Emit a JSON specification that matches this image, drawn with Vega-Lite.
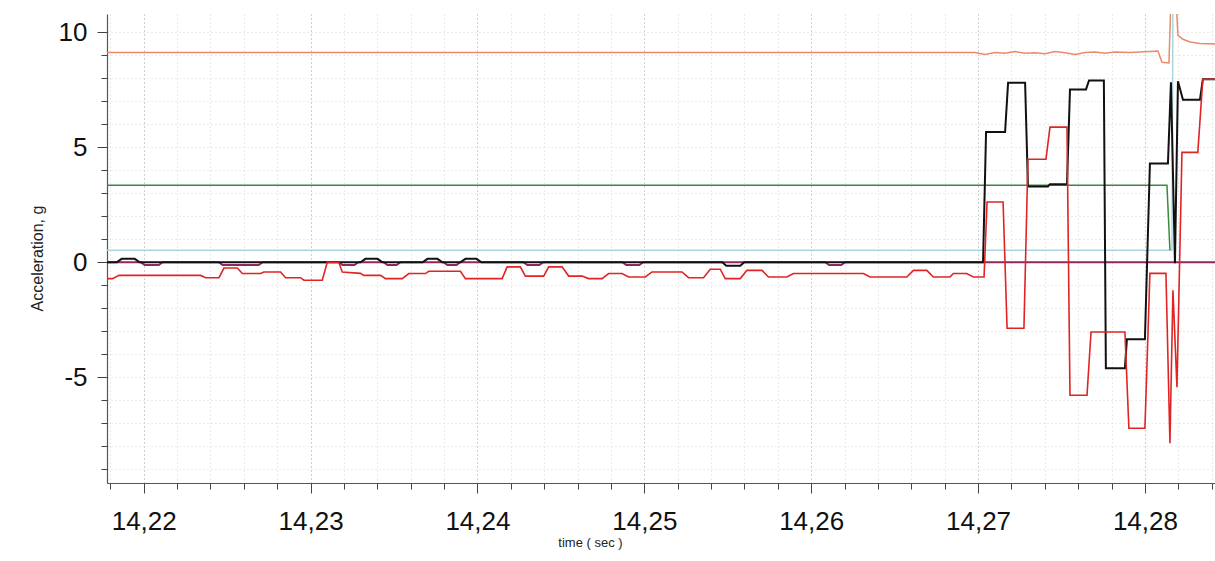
{
  "$schema": "https://vega.github.io/schema/vega-lite/v6.json",
  "width": 1108,
  "height": 469,
  "autosize": {"type": "none"},
  "padding": {"left": 107, "top": 14, "right": 0, "bottom": 78},
  "background": "white",
  "config": {"view": {"stroke": null}, "font": "Liberation Sans"},
  "data": {"values": [
    {"s":"lb","t":14.2178,"v":0.52},{"s":"lb","t":14.2815,"v":0.52},{"s":"lb","t":14.28162,"v":0.52},{"s":"lb","t":14.28168,"v":11.5},
    {"s":"g","t":14.2178,"v":3.35},{"s":"g","t":14.28132,"v":3.35},{"s":"g","t":14.2815,"v":0.52},
    {"s":"o","t":14.2178,"v":9.13},{"s":"o","t":14.26982,"v":9.13},{"s":"o","t":14.27042,"v":9.04},{"s":"o","t":14.27102,"v":9.13},{"s":"o","t":14.27162,"v":9.09},{"s":"o","t":14.27222,"v":9.17},{"s":"o","t":14.27282,"v":9.09},{"s":"o","t":14.27341,"v":9.11},{"s":"o","t":14.27401,"v":9.07},{"s":"o","t":14.27461,"v":9.17},{"s":"o","t":14.27521,"v":9.11},{"s":"o","t":14.27581,"v":9.04},{"s":"o","t":14.27641,"v":9.13},{"s":"o","t":14.27701,"v":9.15},{"s":"o","t":14.2776,"v":9.09},{"s":"o","t":14.2782,"v":9.15},{"s":"o","t":14.2791,"v":9.13},{"s":"o","t":14.2803,"v":9.17},{"s":"o","t":14.28078,"v":9.19},{"s":"o","t":14.28102,"v":8.7},{"s":"o","t":14.28144,"v":8.67},{"s":"o","t":14.28156,"v":11.5},{"s":"o","t":14.28186,"v":11.5},{"s":"o","t":14.28198,"v":9.87},{"s":"o","t":14.28228,"v":9.7},{"s":"o","t":14.2827,"v":9.58},{"s":"o","t":14.2833,"v":9.52},{"s":"o","t":14.2842,"v":9.5},
    {"s":"p","t":14.2178,"v":0},{"s":"p","t":14.21982,"v":0},{"s":"p","t":14.22006,"v":-0.12},{"s":"p","t":14.2209,"v":-0.12},{"s":"p","t":14.22114,"v":0},
    {"s":"p","t":14.22449,"v":0},{"s":"p","t":14.22473,"v":-0.12},{"s":"p","t":14.22689,"v":-0.12},{"s":"p","t":14.22713,"v":0},
    {"s":"p","t":14.23168,"v":0},{"s":"p","t":14.23192,"v":-0.12},{"s":"p","t":14.23263,"v":-0.12},{"s":"p","t":14.23287,"v":0},
    {"s":"p","t":14.23437,"v":0},{"s":"p","t":14.23461,"v":-0.12},{"s":"p","t":14.23515,"v":-0.12},{"s":"p","t":14.23539,"v":0},
    {"s":"p","t":14.23796,"v":0},{"s":"p","t":14.2382,"v":-0.12},{"s":"p","t":14.23874,"v":-0.12},{"s":"p","t":14.23898,"v":0},
    {"s":"p","t":14.24275,"v":0},{"s":"p","t":14.24299,"v":-0.12},{"s":"p","t":14.24371,"v":-0.12},{"s":"p","t":14.24395,"v":0},
    {"s":"p","t":14.24868,"v":0},{"s":"p","t":14.24892,"v":-0.12},{"s":"p","t":14.2497,"v":-0.12},{"s":"p","t":14.24994,"v":0},
    {"s":"p","t":14.26084,"v":0},{"s":"p","t":14.26108,"v":-0.12},{"s":"p","t":14.2618,"v":-0.12},{"s":"p","t":14.26204,"v":0},
    {"s":"p","t":14.2842,"v":0},
    {"s":"k","t":14.2178,"v":0},{"s":"k","t":14.21838,"v":0},{"s":"k","t":14.21868,"v":0.15},{"s":"k","t":14.21946,"v":0.15},{"s":"k","t":14.21976,"v":0},
    {"s":"k","t":14.23299,"v":0},{"s":"k","t":14.23329,"v":0.15},{"s":"k","t":14.23401,"v":0.15},{"s":"k","t":14.23431,"v":0},
    {"s":"k","t":14.23671,"v":0},{"s":"k","t":14.23701,"v":0.15},{"s":"k","t":14.2376,"v":0.15},{"s":"k","t":14.2379,"v":0},
    {"s":"k","t":14.23898,"v":0},{"s":"k","t":14.23928,"v":0.15},{"s":"k","t":14.23994,"v":0.15},{"s":"k","t":14.24024,"v":0},
    {"s":"k","t":14.25467,"v":0},{"s":"k","t":14.25491,"v":-0.15},{"s":"k","t":14.25575,"v":-0.15},{"s":"k","t":14.25599,"v":0},
    {"s":"k","t":14.2703,"v":0},{"s":"k","t":14.27048,"v":5.67},{"s":"k","t":14.27162,"v":5.67},{"s":"k","t":14.2718,"v":7.81},{"s":"k","t":14.27282,"v":7.81},{"s":"k","t":14.27299,"v":3.3},{"s":"k","t":14.27419,"v":3.3},{"s":"k","t":14.27431,"v":3.4},{"s":"k","t":14.27533,"v":3.4},{"s":"k","t":14.27551,"v":7.52},{"s":"k","t":14.27647,"v":7.52},{"s":"k","t":14.27665,"v":7.91},{"s":"k","t":14.27754,"v":7.91},{"s":"k","t":14.27766,"v":-4.61},{"s":"k","t":14.2788,"v":-4.61},{"s":"k","t":14.27892,"v":-3.35},{"s":"k","t":14.28,"v":-3.35},{"s":"k","t":14.2803,"v":4.3},{"s":"k","t":14.28138,"v":4.3},{"s":"k","t":14.28156,"v":7.83},{"s":"k","t":14.2818,"v":-0.04},{"s":"k","t":14.28198,"v":7.87},{"s":"k","t":14.28228,"v":7.07},{"s":"k","t":14.2833,"v":7.07},{"s":"k","t":14.28347,"v":7.96},{"s":"k","t":14.2842,"v":7.96},
    {"s":"r","t":14.2178,"v":-0.71},{"s":"r","t":14.21813,"v":-0.71},{"s":"r","t":14.21852,"v":-0.57},{"s":"r","t":14.22341,"v":-0.57},{"s":"r","t":14.22371,"v":-0.67},{"s":"r","t":14.22451,"v":-0.67},{"s":"r","t":14.22481,"v":-0.25},{"s":"r","t":14.22561,"v":-0.25},{"s":"r","t":14.22591,"v":-0.49},{"s":"r","t":14.22701,"v":-0.49},{"s":"r","t":14.2272,"v":-0.42},{"s":"r","t":14.2282,"v":-0.42},{"s":"r","t":14.2285,"v":-0.67},{"s":"r","t":14.2294,"v":-0.67},{"s":"r","t":14.2296,"v":-0.78},{"s":"r","t":14.2307,"v":-0.78},{"s":"r","t":14.231,"v":0},{"s":"r","t":14.23169,"v":0},{"s":"r","t":14.2319,"v":-0.42},{"s":"r","t":14.23299,"v":-0.48},{"s":"r","t":14.23319,"v":-0.57},{"s":"r","t":14.23419,"v":-0.57},{"s":"r","t":14.23449,"v":-0.71},{"s":"r","t":14.23549,"v":-0.71},
    {"s":"r","t":14.23589,"v":-0.49},{"s":"r","t":14.23689,"v":-0.49},{"s":"r","t":14.23708,"v":-0.39},{"s":"r","t":14.23898,"v":-0.39},{"s":"r","t":14.23928,"v":-0.71},{"s":"r","t":14.24148,"v":-0.71},{"s":"r","t":14.24178,"v":-0.2},{"s":"r","t":14.24257,"v":-0.2},{"s":"r","t":14.24287,"v":-0.6},{"s":"r","t":14.24397,"v":-0.6},{"s":"r","t":14.24427,"v":-0.2},{"s":"r","t":14.24507,"v":-0.2},{"s":"r","t":14.24547,"v":-0.6},{"s":"r","t":14.24627,"v":-0.6},{"s":"r","t":14.24666,"v":-0.71},{"s":"r","t":14.24747,"v":-0.71},{"s":"r","t":14.24786,"v":-0.49},{"s":"r","t":14.24866,"v":-0.49},{"s":"r","t":14.24906,"v":-0.64},{"s":"r","t":14.25006,"v":-0.64},{"s":"r","t":14.25046,"v":-0.42},{"s":"r","t":14.25226,"v":-0.42},{"s":"r","t":14.25265,"v":-0.67},
    {"s":"r","t":14.25355,"v":-0.67},{"s":"r","t":14.25395,"v":-0.3},{"s":"r","t":14.25455,"v":-0.3},{"s":"r","t":14.25485,"v":-0.71},{"s":"r","t":14.25575,"v":-0.71},{"s":"r","t":14.25615,"v":-0.35},{"s":"r","t":14.25705,"v":-0.35},{"s":"r","t":14.25744,"v":-0.64},{"s":"r","t":14.25854,"v":-0.64},{"s":"r","t":14.25894,"v":-0.49},{"s":"r","t":14.26313,"v":-0.49},{"s":"r","t":14.26353,"v":-0.64},{"s":"r","t":14.26573,"v":-0.64},{"s":"r","t":14.26613,"v":-0.35},{"s":"r","t":14.26693,"v":-0.35},{"s":"r","t":14.26732,"v":-0.64},{"s":"r","t":14.26832,"v":-0.64},{"s":"r","t":14.26852,"v":-0.49},{"s":"r","t":14.26932,"v":-0.49},{"s":"r","t":14.26972,"v":-0.64},{"s":"r","t":14.27036,"v":-0.64},
    {"s":"r","t":14.27054,"v":2.62},{"s":"r","t":14.2715,"v":2.62},{"s":"r","t":14.27174,"v":-2.87},{"s":"r","t":14.27275,"v":-2.87},{"s":"r","t":14.27299,"v":4.48},{"s":"r","t":14.27407,"v":4.48},{"s":"r","t":14.27431,"v":5.88},{"s":"r","t":14.27533,"v":5.88},{"s":"r","t":14.27551,"v":-5.78},{"s":"r","t":14.27653,"v":-5.78},{"s":"r","t":14.27677,"v":-3.03},{"s":"r","t":14.2788,"v":-3.03},{"s":"r","t":14.27904,"v":-7.22},{"s":"r","t":14.28,"v":-7.22},{"s":"r","t":14.2803,"v":-0.48},{"s":"r","t":14.28126,"v":-0.48},{"s":"r","t":14.2815,"v":-7.87},{"s":"r","t":14.28168,"v":-1.22},{"s":"r","t":14.28192,"v":-5.43},{"s":"r","t":14.28222,"v":4.78},{"s":"r","t":14.28317,"v":4.78},{"s":"r","t":14.28347,"v":7.96},{"s":"r","t":14.2842,"v":7.96}
  ]},
  "encoding": {
    "x": {
      "field": "t", "type": "quantitative",
      "scale": {"domain": [14.2178, 14.2842], "nice": false, "zero": false},
      "axis": {
        "title": "time ( sec )",
        "titleFont": "Liberation Sans", "titleFontSize": 13, "titleFontWeight": "normal", "titleColor": "#222",
        "titleX": 483, "titleY": 59, "titleBaseline": "middle", "titleAlign": "center",
        "values": [14.218,14.22,14.222,14.224,14.226,14.228,14.23,14.232,14.234,14.236,14.238,14.24,14.242,14.244,14.246,14.248,14.25,14.252,14.254,14.256,14.258,14.26,14.262,14.264,14.266,14.268,14.27,14.272,14.274,14.276,14.278,14.28,14.282,14.284],
        "labelExpr": "abs(datum.value*100 - round(datum.value*100)) < 0.001 ? replace(format(datum.value, '.2f'), '.', ',') : ''",
        "labelFont": "Liberation Sans", "labelFontSize": 26, "labelColor": "#111", "labelPadding": 15,
        "labelFlush": false, "labelOverlap": false,
        "tickColor": "#444",
        "tickSize": {"condition": {"test": "abs(datum.value*100 - round(datum.value*100)) < 0.001", "value": 10}, "value": 6},
        "domainColor": "#555", "domainWidth": 1.2,
        "grid": true,
        "gridColor": {"condition": {"test": "abs(datum.value*100 - round(datum.value*100)) < 0.001", "value": "#a0a0a0"}, "value": "#d2d2d2"},
        "gridDash": [1, 3], "gridWidth": 1
      }
    },
    "y": {
      "field": "v", "type": "quantitative",
      "scale": {"domain": [-9.6, 10.8], "nice": false, "zero": false},
      "axis": {
        "title": "Acceleration, g",
        "titleFont": "Liberation Sans", "titleFontSize": 16, "titleFontWeight": "normal", "titleColor": "#222",
        "titleX": -70, "titleY": 244, "titleAngle": 270, "titleBaseline": "middle", "titleAlign": "center",
        "values": [-9,-8,-7,-6,-5,-4,-3,-2,-1,0,1,2,3,4,5,6,7,8,9,10],
        "labelExpr": "datum.value % 5 === 0 ? '' + datum.value : ''",
        "labelFont": "Liberation Sans", "labelFontSize": 26, "labelColor": "#111", "labelPadding": 10,
        "labelOverlap": false, "labelFlush": false,
        "tickColor": "#444",
        "tickSize": {"condition": {"test": "datum.value % 5 === 0", "value": 10}, "value": 6},
        "domainColor": "#555", "domainWidth": 1.2,
        "grid": true, "gridColor": "#d6d6d6", "gridDash": [1, 3], "gridWidth": 1
      }
    }
  },
  "layer": [
    {"transform": [{"filter": "datum.s === 'lb'"}], "mark": {"type": "line", "color": "#a9d6de", "strokeWidth": 1.5, "clip": true}},
    {"transform": [{"filter": "datum.s === 'g'"}], "mark": {"type": "line", "color": "#3a8a3a", "strokeWidth": 1.5, "clip": true}},
    {"transform": [{"filter": "datum.s === 'o'"}], "mark": {"type": "line", "color": "#e98a6c", "strokeWidth": 1.5, "clip": true}},
    {"transform": [{"filter": "datum.s === 'p'"}], "mark": {"type": "line", "color": "#8e2660", "strokeWidth": 2, "clip": true}},
    {"transform": [{"filter": "datum.s === 'k'"}], "mark": {"type": "line", "color": "#111111", "strokeWidth": 2, "clip": true}},
    {"transform": [{"filter": "datum.s === 'r'"}], "mark": {"type": "line", "color": "#e02424", "strokeWidth": 1.6, "clip": true}}
  ]
}
